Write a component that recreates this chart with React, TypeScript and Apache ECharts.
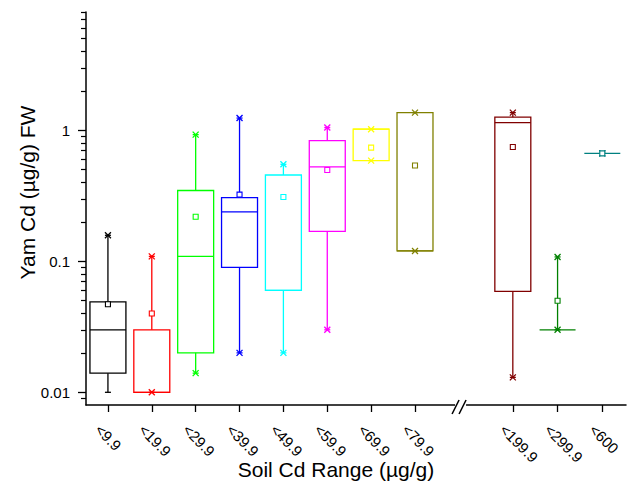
import React, { useEffect, useRef } from "react";
import * as echarts from "echarts";

// ---- data ----
const categories = ["<9.9", "<19.9", "<29.9", "<39.9", "<49.9", "<59.9", "<69.9", "<79.9", "<199.9", "<299.9", "<600"];
// slot of each category along the (broken) x axis
const slotPositions = [1, 2, 3, 4, 5, 6, 7, 8, 10.23, 11.25, 12.27];
const whiskerMin = [0.01, 0.01, 0.014, 0.02, 0.02, 0.03, 0.587, 0.12, 0.013, 0.03, 0.667];
const q1 = [0.014, 0.01, 0.02, 0.09, 0.06, 0.169, 0.587, 0.12, 0.059, 0.03, 0.667];
const median = [0.03, 0.01, 0.109, 0.238, 0.06, 0.525, 1.02, 0.12, 1.145, 0.03, 0.667];
const q3 = [0.049, 0.03, 0.347, 0.306, 0.456, 0.835, 1.02, 1.365, 1.26, 0.03, 0.667];
const whiskerMax = [0.158, 0.109, 0.927, 1.24, 0.55, 1.05, 1.02, 1.365, 1.365, 0.108, 0.667];
const means = [0.047, 0.04, 0.219, 0.323, 0.31, 0.498, 0.738, 0.538, 0.746, 0.05, 0.667];
// 1st / 99th percentile (x marks)
const pct1: (number | null)[] = [null, 0.01, 0.014, 0.02, 0.02, 0.03, 0.587, 0.12, 0.013, 0.03, 0.667];
const pct99: (number | null)[] = [0.158, 0.109, 0.927, 1.24, 0.55, 1.05, 1.02, 1.365, 1.365, 0.108, 0.667];

const colors = ["#000000", "#FF0000", "#00FF00", "#0000FF", "#00FFFF", "#FF00FF", "#FFFF00", "#808000", "#800000", "#008000", "#008080"];

const yMajorTicks = [0.01, 0.1, 1];
const yTickLabels = ["0.01", "0.1", "1"];
const yMinorTicks = [0.009, 0.02, 0.03, 0.04, 0.05, 0.06, 0.07, 0.08, 0.09, 0.2, 0.3, 0.4, 0.5, 0.6, 0.7, 0.8, 0.9, 2, 3, 4, 5, 6, 7, 8];

const Y_MIN = 0.008;
const Y_MAX = 8;
const X_MIN = 0.5;
const X_MAX = 12.81;
const BOX_WIDTH = 0.82;
const LABEL_SHIFT = 0.23;
const BREAK_AT = 9.05;

const FONT = "'Liberation Sans', Arial, Helvetica, sans-serif";

export default function App() {
  const ref = useRef<HTMLDivElement>(null);

  useEffect(() => {
    if (!ref.current) return;
    const chart = echarts.init(ref.current, undefined, { renderer: "svg" });

    const labelPositions = slotPositions.map((p) => p - LABEL_SHIFT);
    const data = categories.map((_, i) => [
      slotPositions[i],
      whiskerMin[i],
      q1[i],
      median[i],
      q3[i],
      whiskerMax[i],
      means[i],
      pct1[i] == null ? NaN : pct1[i],
      pct99[i] == null ? NaN : pct99[i],
    ]);

    const renderItem = (params: any, api: any) => {
      const i = params.dataIndex;
      const c = colors[i];
      const x = api.value(0);
      const vMin = api.value(1);
      const vQ1 = api.value(2);
      const vMed = api.value(3);
      const vQ3 = api.value(4);
      const vMax = api.value(5);
      const vMean = api.value(6);
      const vP1 = api.value(7);
      const vP99 = api.value(8);
      const left = api.coord([x - BOX_WIDTH / 2, vQ1])[0];
      const right = api.coord([x + BOX_WIDTH / 2, vQ1])[0];
      const cx = api.coord([x, vQ1])[0];
      const yQ1 = api.coord([x, vQ1])[1];
      const yQ3 = api.coord([x, vQ3])[1];
      const yMed = api.coord([x, vMed])[1];
      const yMin = api.coord([x, vMin])[1];
      const yMax = api.coord([x, vMax])[1];
      const yMean = api.coord([x, vMean])[1];
      const lw = 1.3;
      const st = { stroke: c, lineWidth: lw, fill: "none" };
      const children: any[] = [];
      const line = (x1: number, y1: number, x2: number, y2: number) => ({
        type: "line",
        shape: { x1, y1, x2, y2 },
        style: { ...st },
      });
      if (Math.abs(yQ3 - yMax) > 0.5) children.push(line(cx, yQ3, cx, yMax));
      if (Math.abs(yQ1 - yMin) > 0.5) children.push(line(cx, yQ1, cx, yMin));
      if (Math.abs(yQ1 - yQ3) < 0.5) {
        children.push(line(left, yQ1, right, yQ1));
      } else {
        children.push({
          type: "rect",
          shape: { x: left, y: yQ3, width: right - left, height: yQ1 - yQ3 },
          style: { ...st },
        });
        children.push(line(left, yMed, right, yMed));
      }
      const cap = 3;
      children.push(line(cx - cap, yMin, cx + cap, yMin));
      children.push(line(cx - cap, yMax, cx + cap, yMax));
      const xs = 3;
      [vP1, vP99].forEach((v) => {
        if (v == null || isNaN(v)) return;
        const yy = api.coord([x, v])[1];
        children.push(line(cx - xs, yy - xs, cx + xs, yy + xs));
        children.push(line(cx - xs, yy + xs, cx + xs, yy - xs));
      });
      const ms = 2.5;
      children.push({
        type: "rect",
        shape: { x: cx - ms, y: yMean - ms, width: ms * 2, height: ms * 2 },
        style: { stroke: c, lineWidth: 1.1, fill: "#ffffff" },
        z2: 10,
      });
      return { type: "group", children };
    };

    const axisLineStyle = { color: "#000", width: 1.5 };

    chart.setOption({
      animation: false,
      backgroundColor: "#ffffff",
      textStyle: { fontFamily: FONT },
      grid: { left: 86, right: 13, top: 12, bottom: 80, containLabel: false, outerBoundsMode: "none" },
      xAxis: {
        type: "value",
        min: X_MIN,
        max: X_MAX,
        axisLine: { show: true, lineStyle: axisLineStyle },
        axisTick: { show: true, length: 7, customValues: slotPositions, lineStyle: { color: "#000", width: 1.3 } },
        axisLabel: {
          customValues: labelPositions,
          formatter: (v: number) => {
            const idx = labelPositions.findIndex((p) => Math.abs(p - v) < 1e-6);
            return idx >= 0 ? categories[idx] : "";
          },
          rotate: -45,
          align: "left",
          verticalAlign: "middle",
          margin: 22,
          fontSize: 15,
          color: "#000",
          fontFamily: FONT,
        },
        splitLine: { show: false },
        name: "Soil Cd Range (µg/g)",
        nameLocation: "middle",
        nameGap: 54,
        nameMoveOverlap: false,
        nameTextStyle: { fontSize: 21, color: "#000", fontFamily: FONT, padding: [0, 40, 0, 0] },
      },
      yAxis: [
        {
          type: "log",
          logBase: 10,
          min: Y_MIN,
          max: Y_MAX,
          position: "left",
          axisLine: { show: true, lineStyle: axisLineStyle },
          axisTick: { show: true, length: 8, customValues: yMajorTicks, lineStyle: { color: "#000", width: 1.3 } },
          axisLabel: {
            customValues: yMajorTicks,
            formatter: (v: number) => {
              const idx = yMajorTicks.findIndex((m) => Math.abs(Math.log10(m) - Math.log10(v)) < 1e-6);
              return idx >= 0 ? yTickLabels[idx] : "";
            },
            margin: 16,
            fontSize: 15,
            color: "#000",
            fontFamily: FONT,
          },
          splitLine: { show: false },
          minorTick: { show: false },
          name: "Yam Cd (µg/g) FW",
          nameLocation: "middle",
          nameGap: 48,
          nameMoveOverlap: false,
          nameTextStyle: { fontSize: 21, color: "#000", fontFamily: FONT, padding: [0, 0, 0, 32] },
        },
        {
          type: "log",
          logBase: 10,
          min: Y_MIN,
          max: Y_MAX,
          position: "left",
          axisLine: { show: false },
          axisTick: { show: true, length: 5, customValues: yMinorTicks, lineStyle: { color: "#000", width: 1.2 } },
          axisLabel: { show: false },
          splitLine: { show: false },
        },
      ],
      series: [
        {
          type: "custom",
          renderItem,
          xAxisIndex: 0,
          yAxisIndex: 0,
          data,
          encode: { x: 0, y: [1, 2, 3, 4, 5, 6] },
          clip: false,
        },
      ],
    });

    const p = chart.convertToPixel({ gridIndex: 0 }, [BREAK_AT, Y_MIN]) as number[];
    if (p && isFinite(p[0])) {
      const bx = p[0];
      const by = p[1];
      chart.setOption({
        graphic: [
          { type: "rect", z: 100, shape: { x: bx - 6, y: by - 2.5, width: 11, height: 5 }, style: { fill: "#ffffff" } },
          { type: "line", z: 101, shape: { x1: bx - 9, y1: by + 9, x2: bx - 2, y2: by - 5 }, style: { stroke: "#000", lineWidth: 1.5 } },
          { type: "line", z: 101, shape: { x1: bx - 2, y1: by + 9, x2: bx + 5, y2: by - 5 }, style: { stroke: "#000", lineWidth: 1.5 } },
        ],
      });
    }

    return () => chart.dispose();
  }, []);

  return <div ref={ref} style={{ position: "fixed", left: 0, top: 0, width: 639, height: 485 }} />;
}
